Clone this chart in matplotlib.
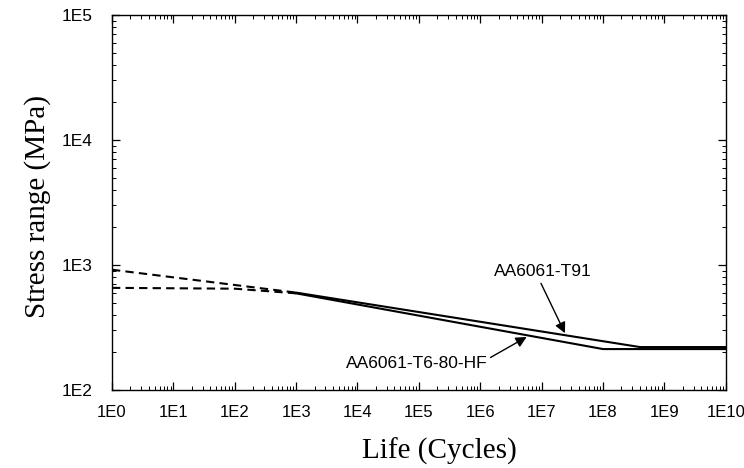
import matplotlib
matplotlib.use("Agg")
import matplotlib.pyplot as plt
from matplotlib.ticker import LogLocator, FixedLocator, NullFormatter

# Data
t91_dash_N = [1, 1e3]
t91_dash_S = [915, 600]
t91_N = [1e3, 4e8, 1e10]
t91_S = [600, 220, 220]

hf_dash_N = [1, 1e2, 1e3]
hf_dash_S = [655, 645, 592]
hf_N = [1e3, 1e8, 1e10]
hf_S = [592, 212, 212]

xticks = [10.0**k for k in range(0, 11)]
xticklabels = ["1E%d" % k for k in range(0, 11)]
yticks = [1e2, 1e3, 1e4, 1e5]
yticklabels = ["1E2", "1E3", "1E4", "1E5"]

fig = plt.figure(figsize=(7.44, 4.68), dpi=100)
ax = fig.add_axes([0.1505, 0.167, 0.825, 0.801])

ax.plot(t91_dash_N, t91_dash_S, color="black", lw=1.5, ls=(0, (4, 2.5)))
ax.plot(hf_dash_N, hf_dash_S, color="black", lw=1.5, ls=(0, (4, 2.5)))
ax.plot(t91_N, t91_S, color="black", lw=1.5)
ax.plot(hf_N, hf_S, color="black", lw=1.5)

ax.set_xscale("log")
ax.set_yscale("log")
ax.set_xlim(1, 1e10)
ax.set_ylim(1e2, 1e5)

ax.xaxis.set_major_locator(FixedLocator(xticks))
ax.set_xticklabels(xticklabels)
ax.yaxis.set_major_locator(FixedLocator(yticks))
ax.set_yticklabels(yticklabels)
ax.xaxis.set_minor_locator(LogLocator(base=10, subs=range(2, 10), numticks=100))
ax.yaxis.set_minor_locator(LogLocator(base=10, subs=range(2, 10), numticks=100))
ax.xaxis.set_minor_formatter(NullFormatter())
ax.yaxis.set_minor_formatter(NullFormatter())

ax.tick_params(which="both", direction="in", top=True, right=True, color="black")
ax.tick_params(which="major", length=6, width=0.9)
ax.tick_params(which="minor", length=3, width=0.7)
ax.tick_params(axis="x", which="major", pad=11)
ax.tick_params(axis="y", which="major", pad=14)
for lab in ax.get_xticklabels():
    lab.set_fontfamily("Liberation Sans")
    lab.set_fontsize(12)
for lab in ax.get_yticklabels():
    lab.set_fontfamily("Liberation Sans")
    lab.set_fontsize(12.5)
for sp in ax.spines.values():
    sp.set_linewidth(1.0)

ax.set_xlabel("Life (Cycles)", fontfamily="Liberation Serif", fontsize=21)
ax.set_ylabel("Stress range (MPa)", fontfamily="Liberation Serif", fontsize=21)
ax.xaxis.set_label_coords(0.534, -0.128)
ax.yaxis.set_label_coords(-0.10, 0.49)

ax.annotate("AA6061-T91", xy=(2.4e7, 284), xytext=(1.05e7, 880),
            fontfamily="Liberation Sans", fontsize=12.5, ha="center", va="center",
            arrowprops=dict(arrowstyle="-|>", color="black", lw=1.0, mutation_scale=16,
                            shrinkA=1, shrinkB=0, relpos=(0.46, 0.0)))
ax.annotate("AA6061-T6-80-HF", xy=(5.7e6, 265), xytext=(9.3e4, 162),
            fontfamily="Liberation Sans", fontsize=12.5, ha="center", va="center",
            arrowprops=dict(arrowstyle="-|>", color="black", lw=1.0, mutation_scale=16,
                            shrinkA=0, shrinkB=0, relpos=(0.98, 0.7)))

fig.savefig("out.png", dpi=100)
